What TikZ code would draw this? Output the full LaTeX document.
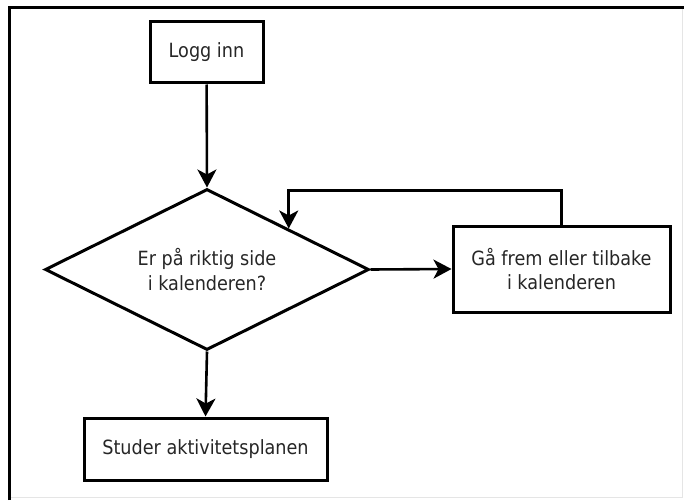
\documentclass[tikz,border=0pt]{standalone}
\usepackage{fontspec}
\setmainfont{DejaVu Sans Condensed}
\usetikzlibrary{shapes.geometric,arrows.meta,calc}
\begin{document}
\begin{tikzpicture}[x=1pt, y=-1pt,
  boks/.style={draw, line width=3pt, rectangle, inner sep=0pt, align=center, text=black!85},
  valg/.style={draw, line width=3pt, diamond, aspect=2, inner sep=0pt, align=center, text=black!85},
  pil/.style={line width=2.6pt, -{Stealth[length=18pt, width=19pt, inset=5pt]}},
  font=\fontsize{19.6}{24.5}\selectfont]
\useasboundingbox (0,0) rectangle (684,500);
\draw[gray!20, line width=1pt] (682.5,7.5) -- (682.5,497) -- (9.5,497);
\draw[line width=3pt] (9.5,500) -- (9.5,7.5) -- (684,7.5);
\node[boks, minimum width=113pt, minimum height=61pt] (logg) at (206.5,52.5) {Logg inn};
\node[valg, minimum width=324pt, minimum height=161pt] (sjekk) at (207,269.5) {Er på riktig side\\i kalenderen?};
\node[boks, minimum width=217pt, minimum height=86pt] (bla) at (561.5,269) {Gå frem eller tilbake\\i kalenderen};
\node[boks, minimum width=243pt, minimum height=62pt] (studer) at (205.5,449) {Studer aktivitetsplanen};
\coordinate (tilbake) at ($(sjekk.north)!0.5!(sjekk.east)$);
\draw[pil] (logg) -- (sjekk.north);
\draw[pil] (sjekk.east) -- (bla.west);
\draw[pil] (sjekk.south) -- (studer.north);
\draw[pil] (bla.north) -- ++(0,-34) -| (tilbake);
\end{tikzpicture}
\end{document}
